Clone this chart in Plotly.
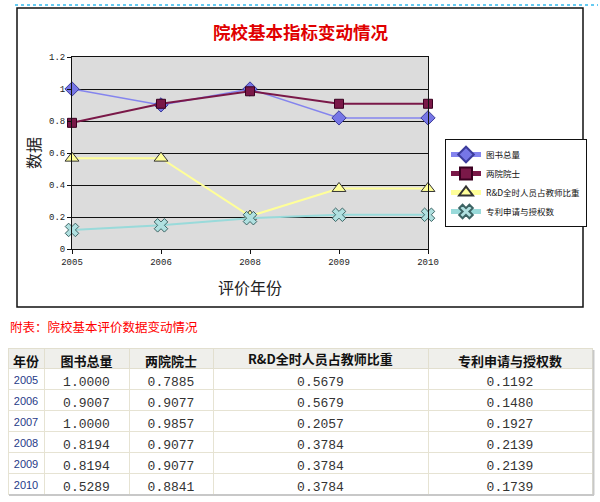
import plotly.graph_objects as go

W, H = 600, 502

# ---- chart data ----
chart_years = ["2005", "2006", "2008", "2009", "2010"]
books = [1.0000, 0.9007, 1.0000, 0.8194, 0.8194]
academicians = [0.7885, 0.9077, 0.9857, 0.9077, 0.9077]
rd_ratio = [0.5679, 0.5679, 0.2057, 0.3784, 0.3784]
patents = [0.1192, 0.1480, 0.1927, 0.2139, 0.2139]

series_names = ["图书总量", "两院院士", "R&D全时人员占教师比重", "专利申请与授权数"]

# ---- table data ----
table_years = ["2005", "2006", "2007", "2008", "2009", "2010"]
t_books = [1.0000, 0.9007, 1.0000, 0.8194, 0.8194, 0.5289]
t_academicians = [0.7885, 0.9077, 0.9857, 0.9077, 0.9077, 0.8841]
t_rd = [0.5679, 0.5679, 0.2057, 0.3784, 0.3784, 0.3784]
t_patents = [0.1192, 0.1480, 0.1927, 0.2139, 0.2139, 0.1739]
table_header = ["年份", "图书总量", "两院院士", "R&D全时人员占教师比重", "专利申请与授权数"]
col_widths = [36, 85, 84, 215, 164]


def px(x):
    return x / W


def py(y):
    return 1 - y / H


CJK = "Noto Sans CJK SC"
TABLE_X0 = 8

fig = go.Figure()

styles = [
    dict(line=dict(color="#8484ee", width=1.5),
         marker=dict(symbol="diamond", size=11, color="#7676e6", line=dict(color="#3c3c9c", width=1))),
    dict(line=dict(color="#7a1848", width=2),
         marker=dict(symbol="square", size=9, color="#7a1848", line=dict(color="#3a0020", width=1))),
    dict(line=dict(color="#ffff99", width=2),
         marker=dict(symbol="triangle-up", size=12, color="#ffff99", line=dict(color="#333333", width=1))),
    dict(line=dict(color="#99dada", width=2),
         marker=dict(symbol="x", size=12, color="#b0e0e0", line=dict(color="#3c6464", width=1))),
]

for name, vals, st in zip(series_names, [books, academicians, rd_ratio, patents], styles):
    fig.add_trace(go.Scatter(
        x=chart_years, y=vals, name=name, mode="lines+markers",
        line=st["line"], marker=st["marker"], cliponaxis=False,
    ))

# header labels containing markup characters ("&") make plotly grow the header row,
# so such labels are drawn as annotations over an empty header cell
header_in_table = [h if "&" not in h else "" for h in table_header]

fig.add_trace(go.Table(
    domain=dict(x=[px(TABLE_X0), px(TABLE_X0 + sum(col_widths))], y=[py(497), py(348)]),
    columnwidth=col_widths,
    header=dict(
        values=header_in_table,
        height=20,
        fill_color="#efefeb",
        line=dict(color="#e2dfcf", width=1),
        align="center",
        font=dict(family=CJK, size=13, color="#111111", weight="bold"),
    ),
    cells=dict(
        values=[table_years, t_books, t_academicians, t_rd, t_patents],
        format=["", ".4f", ".4f", ".4f", ".4f"],
        height=21,
        fill_color="white",
        line=dict(color="#e6e3d3", width=1),
        align="center",
        font=dict(family=["Liberation Sans", "Liberation Mono", "Liberation Mono",
                          "Liberation Mono", "Liberation Mono"],
                  size=[11, 13, 13, 13, 13],
                  color=["#1f3a88", "#333333", "#333333", "#333333", "#333333"]),
    ),
))

shapes = [
    dict(type="line", xref="paper", yref="paper", x0=px(15), x1=px(598), y0=py(5), y1=py(5),
         line=dict(color="#33bbee", width=1.5, dash="dot")),
    dict(type="rect", xref="paper", yref="paper", x0=px(17), x1=px(583), y0=py(307), y1=py(8),
         line=dict(color="#111111", width=1.5)),
    dict(type="line", xref="paper", yref="paper", x0=px(593.5), x1=px(593.5), y0=py(495), y1=py(350),
         line=dict(color="#c8c8c8", width=2)),
    dict(type="line", xref="paper", yref="paper", x0=px(9), x1=px(594), y0=py(495), y1=py(495),
         line=dict(color="#c8c8c8", width=2)),
]

annotations = [
    dict(text="<b>院校基本指标变动情况</b>", x=px(300), y=py(32), xref="paper", yref="paper",
         showarrow=False, font=dict(family=CJK, size=17.5, color="#e00000"),
         xanchor="center", yanchor="middle"),
    dict(text="数据", x=px(33), y=py(153), xref="paper", yref="paper", textangle=-90,
         showarrow=False, font=dict(family=CJK, size=16, color="#222222"),
         xanchor="center", yanchor="middle"),
    dict(text="评价年份", x=px(250), y=py(287), xref="paper", yref="paper",
         showarrow=False, font=dict(family=CJK, size=16, color="#222222"),
         xanchor="center", yanchor="middle"),
    dict(text="附表：院校基本评价数据变动情况", x=px(8), y=py(326), xref="paper", yref="paper",
         showarrow=False, font=dict(family=CJK, size=12.5, color="#ff0000"),
         xanchor="left", yanchor="middle"),
]

# header annotations for labels skipped in the table header
x_left = TABLE_X0
for h, wcol in zip(table_header, col_widths):
    if "&" in h:
        annotations.append(dict(
            text="<b>" + h.replace("&", "&amp;") + "</b>", x=px(x_left + wcol / 2), y=py(358),
            xref="paper", yref="paper", showarrow=False,
            font=dict(family=CJK, size=13, color="#111111"),
            xanchor="center", yanchor="middle"))
    x_left += wcol

fig.update_layout(
    width=W, height=H,
    margin=dict(l=0, r=0, t=0, b=0, autoexpand=False),
    paper_bgcolor="white",
    plot_bgcolor="#dcdcdc",
    showlegend=True,
    legend=dict(
        x=px(445), y=py(139), xanchor="left", yanchor="top",
        bordercolor="#111111", borderwidth=1, bgcolor="white",
        font=dict(family=CJK, size=8.5, color="#111111"),
        itemwidth=30, tracegroupgap=0, itemsizing="constant",
    ),
    xaxis=dict(
        domain=[px(72), px(428)], type="category", range=[0, 4],
        showline=True, linecolor="#111111", linewidth=1, mirror=True,
        ticks="outside", ticklen=4, tickcolor="#111111", showgrid=False,
        tickfont=dict(family="Liberation Mono", size=9, color="#222222"),
    ),
    yaxis=dict(
        domain=[py(249), py(57)], range=[0, 1.2], dtick=0.2,
        showline=True, linecolor="#111111", linewidth=1, mirror=True,
        ticks="outside", ticklen=4, tickcolor="#111111",
        showgrid=True, gridcolor="#111111", gridwidth=1, zeroline=False,
        tickfont=dict(family="Liberation Mono", size=9, color="#222222"),
    ),
    shapes=shapes,
    annotations=annotations,
)

fig.write_html("out.html", config={"displayModeBar": False},
               post_script="document.body.style.margin='0px';")
